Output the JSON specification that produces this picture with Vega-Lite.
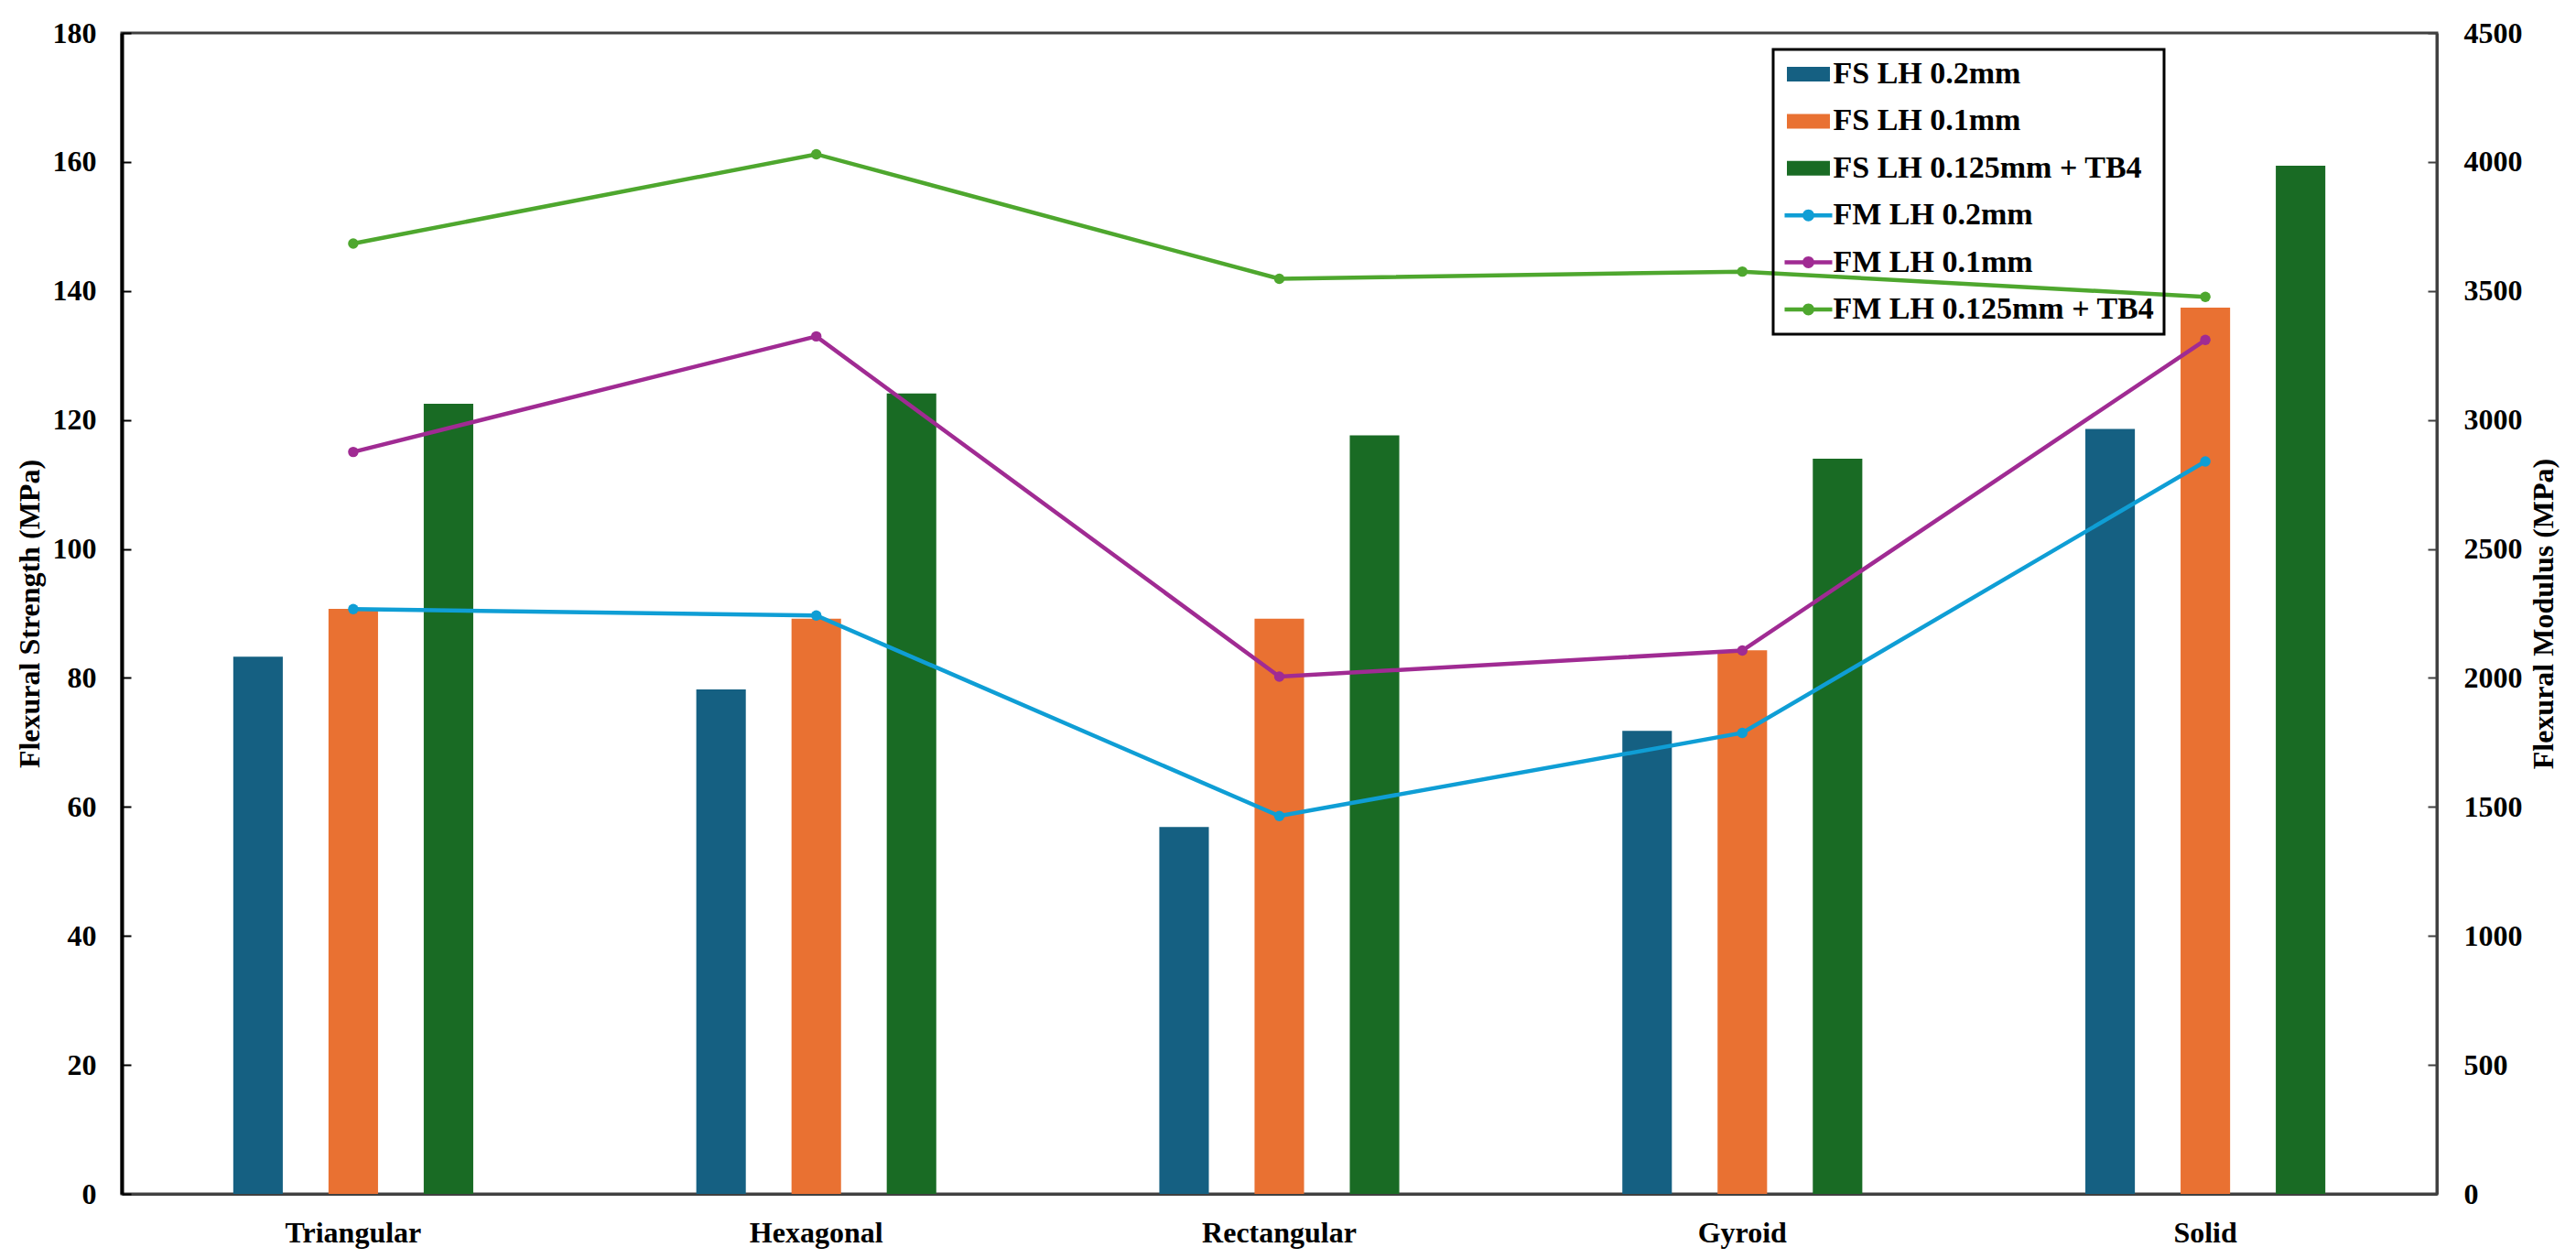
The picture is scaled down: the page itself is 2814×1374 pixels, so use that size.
{
  "$schema": "https://vega.github.io/schema/vega-lite/v6.json",
  "width": 2529,
  "height": 1268,
  "autosize": {"type": "none"},
  "padding": {"left": 133, "top": 36, "right": 152, "bottom": 70},
  "background": "white",
  "config": {
    "font": "Liberation Serif",
    "view": {"stroke": "#404040", "strokeWidth": 3},
    "axis": {
      "grid": false,
      "labelFont": "Liberation Serif",
      "labelFontWeight": "bold",
      "labelFontSize": 32,
      "labelColor": "black",
      "titleFont": "Liberation Serif",
      "titleFontWeight": "bold",
      "titleFontSize": 32,
      "titleColor": "black"
    }
  },
  "datasets": {
    "strength": [
      {"structure": "Triangular", "series": "FS LH 0.2mm", "value": 83.3},
      {"structure": "Triangular", "series": "FS LH 0.1mm", "value": 90.7},
      {"structure": "Triangular", "series": "FS LH 0.125mm + TB4", "value": 122.5},
      {"structure": "Hexagonal", "series": "FS LH 0.2mm", "value": 78.2},
      {"structure": "Hexagonal", "series": "FS LH 0.1mm", "value": 89.2},
      {"structure": "Hexagonal", "series": "FS LH 0.125mm + TB4", "value": 124.1},
      {"structure": "Rectangular", "series": "FS LH 0.2mm", "value": 56.9},
      {"structure": "Rectangular", "series": "FS LH 0.1mm", "value": 89.2},
      {"structure": "Rectangular", "series": "FS LH 0.125mm + TB4", "value": 117.6},
      {"structure": "Gyroid", "series": "FS LH 0.2mm", "value": 71.8},
      {"structure": "Gyroid", "series": "FS LH 0.1mm", "value": 84.3},
      {"structure": "Gyroid", "series": "FS LH 0.125mm + TB4", "value": 114.0},
      {"structure": "Solid", "series": "FS LH 0.2mm", "value": 118.6},
      {"structure": "Solid", "series": "FS LH 0.1mm", "value": 137.4},
      {"structure": "Solid", "series": "FS LH 0.125mm + TB4", "value": 159.4}
    ],
    "modulus": [
      {"structure": "Triangular", "series": "FM LH 0.2mm", "value": 2267},
      {"structure": "Hexagonal", "series": "FM LH 0.2mm", "value": 2242},
      {"structure": "Rectangular", "series": "FM LH 0.2mm", "value": 1465},
      {"structure": "Gyroid", "series": "FM LH 0.2mm", "value": 1787},
      {"structure": "Solid", "series": "FM LH 0.2mm", "value": 2839},
      {"structure": "Triangular", "series": "FM LH 0.1mm", "value": 2876},
      {"structure": "Hexagonal", "series": "FM LH 0.1mm", "value": 3324},
      {"structure": "Rectangular", "series": "FM LH 0.1mm", "value": 2005},
      {"structure": "Gyroid", "series": "FM LH 0.1mm", "value": 2106},
      {"structure": "Solid", "series": "FM LH 0.1mm", "value": 3310},
      {"structure": "Triangular", "series": "FM LH 0.125mm + TB4", "value": 3684},
      {"structure": "Hexagonal", "series": "FM LH 0.125mm + TB4", "value": 4030},
      {"structure": "Rectangular", "series": "FM LH 0.125mm + TB4", "value": 3547},
      {"structure": "Gyroid", "series": "FM LH 0.125mm + TB4", "value": 3575},
      {"structure": "Solid", "series": "FM LH 0.125mm + TB4", "value": 3477}
    ]
  },
  "layer": [
    {
      "data": {"name": "strength"},
      "mark": {"type": "bar"},
      "encoding": {
        "x": {
          "field": "structure",
          "type": "nominal",
          "sort": ["Triangular", "Hexagonal", "Rectangular", "Gyroid", "Solid"],
          "scale": {"paddingInner": 0.383, "paddingOuter": 0.1915},
          "axis": {
            "title": null,
            "labelAngle": 0,
            "ticks": false,
            "domainColor": "#404040",
            "domainWidth": 3,
            "labelPadding": 27
          }
        },
        "xOffset": {
          "field": "series",
          "type": "nominal",
          "scale": {
            "domain": ["FS LH 0.2mm", "FS LH 0.1mm", "FS LH 0.125mm + TB4"],
            "paddingInner": 0.48,
            "paddingOuter": 0.24
          }
        },
        "y": {
          "field": "value",
          "type": "quantitative",
          "scale": {"domain": [0, 180]},
          "axis": {
            "orient": "left",
            "title": "Flexural Strength (MPa)",
            "values": [0, 20, 40, 60, 80, 100, 120, 140, 160, 180],
            "tickSize": -10,
            "tickColor": "black",
            "tickWidth": 2,
            "domainColor": "black",
            "domainWidth": 4,
            "labelPadding": 38,
            "titlePadding": 8
          }
        },
        "color": {
          "field": "series",
          "type": "nominal",
          "scale": {
            "domain": ["FS LH 0.2mm", "FS LH 0.1mm", "FS LH 0.125mm + TB4", "FM LH 0.2mm", "FM LH 0.1mm", "FM LH 0.125mm + TB4"],
            "range": ["#156082", "#E97132", "#196B24", "#0F9ED5", "#A02B93", "#4EA72E"]
          },
          "legend": {
            "title": null,
            "orient": "none",
            "legendX": 1804,
            "legendY": 18,
            "padding": 10,
            "symbolSize": 324,
            "symbolOffset": 11.5,
            "labelOffset": 10,
            "rowPadding": 17.4,
            "labelLimit": 0,
            "labelFont": "Liberation Serif",
            "labelFontWeight": "bold",
            "labelFontSize": 34,
            "labelColor": "black",
            "encode": {
              "legend": {
                "update": {
                  "stroke": {"value": "black"},
                  "strokeWidth": {"value": 3},
                  "fill": {"value": "transparent"}
                }
              },
              "symbols": {
                "update": {
                  "shape": {"signal": "indexof(datum.value, 'FM') === 0 ? 'M-2.89,-0.25H2.89V0.25H-2.89Z M0.72,0A0.72,0.72,0,1,1,-0.72,0A0.72,0.72,0,1,1,0.72,0Z' : 'M-2.61,-0.89H2.61V0.89H-2.61Z'"},
                  "fill": {"scale": "color", "field": "value"},
                  "fillOpacity": {"value": 1},
                  "opacity": {"value": 1},
                  "strokeWidth": {"value": 0}
                }
              }
            }
          }
        }
      }
    },
    {
      "data": {"name": "modulus"},
      "mark": {"type": "line", "strokeWidth": 4.5, "point": {"filled": true, "size": 130}},
      "encoding": {
        "x": {
          "field": "structure",
          "type": "nominal",
          "sort": ["Triangular", "Hexagonal", "Rectangular", "Gyroid", "Solid"]
        },
        "y": {
          "field": "value",
          "type": "quantitative",
          "scale": {"domain": [0, 4500]},
          "axis": {
            "orient": "right",
            "title": "Flexural Modulus (MPa)",
            "titleAngle": 270,
            "titleBaseline": "top",
            "format": "d",
            "values": [0, 500, 1000, 1500, 2000, 2500, 3000, 3500, 4000, 4500],
            "tickSize": -10,
            "tickColor": "#404040",
            "tickWidth": 2,
            "domainColor": "#404040",
            "domainWidth": 3,
            "labelPadding": 39,
            "titlePadding": 8
          }
        },
        "color": {"field": "series", "type": "nominal"}
      }
    }
  ],
  "resolve": {"scale": {"y": "independent"}}
}
